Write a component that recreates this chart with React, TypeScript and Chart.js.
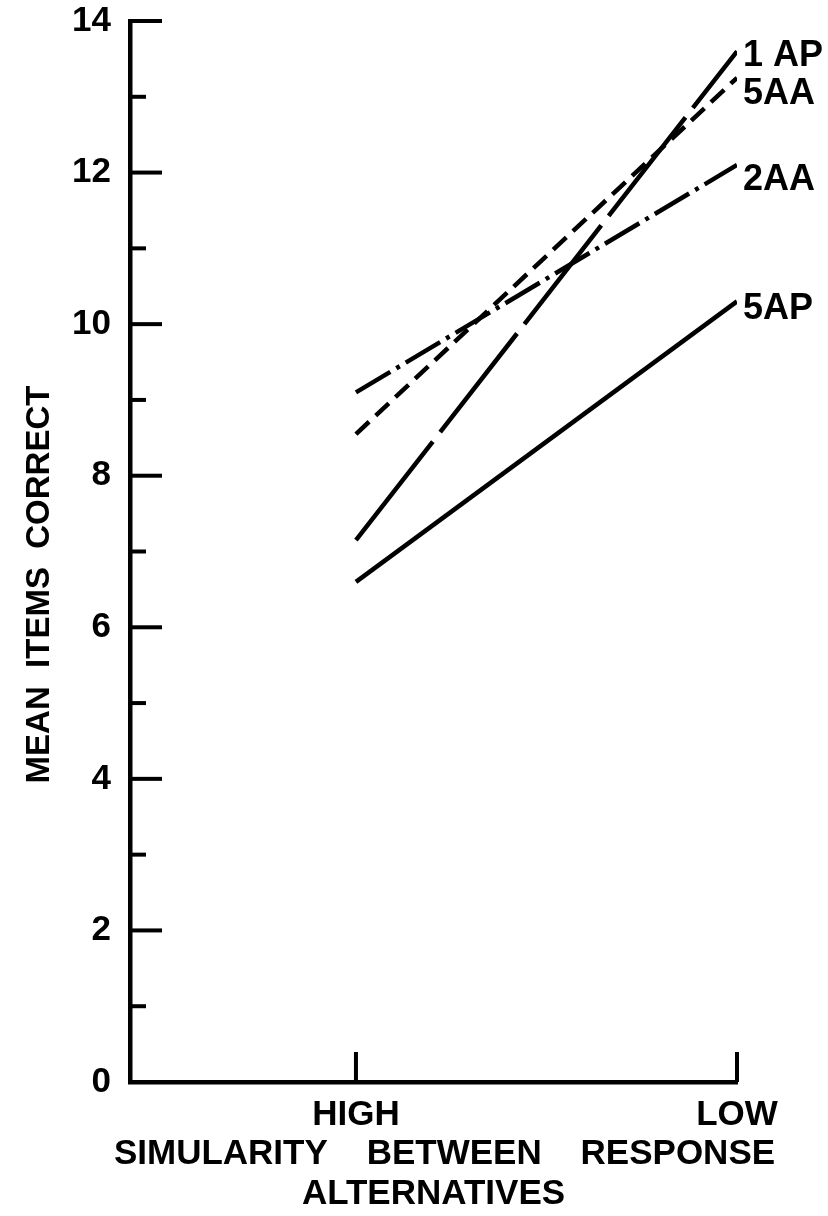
import React, { useEffect, useRef } from 'react';
import { Chart, registerables } from 'chart.js';

Chart.register(...registerables);

// Data
const similarityLevels = ['HIGH', 'LOW'];
const levelPositions = [0, 1];
const seriesNames = ['1 AP', '5AA', '2AA', '5AP'];
const values1AP = [7.15, 13.6];
const values5AA = [8.55, 13.25];
const values2AA = [9.1, 12.1];
const values5AP = [6.6, 10.3];
const yLabelTicks = [0, 2, 4, 6, 8, 10, 12, 14];
const yAllTicks = [1, 2, 3, 4, 5, 6, 7, 8, 9, 10, 11, 12, 13, 14];
const xTitleLines = ['SIMULARITY    BETWEEN    RESPONSE', 'ALTERNATIVES'];
const yTitleText = 'MEAN  ITEMS  CORRECT';

const FONT = '"Liberation Sans", Arial, "DejaVu Sans", sans-serif';

const seriesStyles = [
  { dash: [125, 12], labelDy: 5 },
  { dash: [18, 9], labelDy: 16 },
  { dash: [40, 7, 4, 7], labelDy: 15 },
  { dash: [], labelDy: 8 },
];

const annotatePlugin = {
  id: 'annotate',
  afterDraw(chart: any) {
    const { ctx, chartArea, scales } = chart;
    const xs = scales.x;
    const ys = scales.y;
    ctx.save();
    ctx.strokeStyle = '#000';
    ctx.fillStyle = '#000';
    ctx.lineCap = 'butt';
    ctx.lineWidth = 4;
    // inward y ticks
    yAllTicks.forEach((v) => {
      const py = ys.getPixelForValue(v);
      const len = v % 2 === 0 ? 32 : 16;
      ctx.beginPath();
      ctx.moveTo(chartArea.left, py);
      ctx.lineTo(chartArea.left + len, py);
      ctx.stroke();
    });
    // inward x ticks
    levelPositions.forEach((v) => {
      const px = xs.getPixelForValue(v);
      ctx.beginPath();
      ctx.moveTo(px, chartArea.bottom);
      ctx.lineTo(px, chartArea.bottom - 30);
      ctx.stroke();
    });
    // series labels at line ends
    ctx.font = `bold 36px ${FONT}`;
    ctx.textAlign = 'left';
    ctx.textBaseline = 'middle';
    chart.data.datasets.forEach((ds: any, i: number) => {
      const last = ds.data[ds.data.length - 1];
      const px = xs.getPixelForValue(last.x) + 6;
      const py = ys.getPixelForValue(last.y) + seriesStyles[i].labelDy;
      ctx.fillText(seriesNames[i], px, py);
    });
    // x axis title (two lines)
    ctx.font = `bold 35px ${FONT}`;
    ctx.textAlign = 'center';
    const cx = (chartArea.left + chartArea.right) / 2;
    ctx.fillText(xTitleLines[0], cx + 11, chartArea.bottom + 72);
    ctx.fillText(xTitleLines[1], cx, chartArea.bottom + 112);
    // y axis title
    ctx.font = `bold 33px ${FONT}`;
    ctx.translate(chartArea.left - 90, (chartArea.top + chartArea.bottom) / 2 + 33);
    ctx.rotate(-Math.PI / 2);
    ctx.fillText(yTitleText, 0, 0);
    ctx.restore();
  },
};

export default function App() {
  const canvasRef = useRef<HTMLCanvasElement | null>(null);

  useEffect(() => {
    if (!canvasRef.current) return;
    const allSeries = [values1AP, values5AA, values2AA, values5AP];
    const datasets = allSeries.map((vals, i) => ({
      label: seriesNames[i],
      data: vals.map((y, j) => ({ x: levelPositions[j], y })),
      borderColor: '#000',
      backgroundColor: '#000',
      borderWidth: 4.5,
      borderDash: seriesStyles[i].dash,
      pointRadius: 0,
      fill: false,
      tension: 0,
    }));
    const chart = new Chart(canvasRef.current, {
      type: 'line',
      data: { datasets },
      options: {
        animation: false,
        responsive: true,
        maintainAspectRatio: false,
        layout: { padding: { top: 21, right: 91, left: 0, bottom: 0 } },
        plugins: {
          legend: { display: false },
          tooltip: { enabled: false },
        },
        scales: {
          x: {
            type: 'linear',
            position: 'bottom',
            min: -0.593,
            max: 1,
            grid: { display: false, drawTicks: false },
            border: { display: true, width: 4.5, color: '#000' },
            afterBuildTicks: (s: any) => {
              s.ticks = levelPositions.map((v) => ({ value: v }));
            },
            afterFit: (s: any) => {
              s.height = 134;
              s.paddingLeft = 0;
              s.paddingRight = 0;
            },
            ticks: {
              autoSkip: false,
              maxRotation: 0,
              color: '#000',
              padding: 12,
              font: { family: FONT, size: 35, weight: 'bold' },
              callback: (v: any) => {
                const idx = levelPositions.indexOf(Number(v));
                return idx >= 0 ? similarityLevels[idx] : '';
              },
            },
          },
          y: {
            type: 'linear',
            min: 0,
            max: 14,
            grid: { display: false, drawTicks: false },
            border: { display: true, width: 4.5, color: '#000' },
            afterBuildTicks: (s: any) => {
              s.ticks = yLabelTicks.map((v) => ({ value: v }));
            },
            afterFit: (s: any) => {
              s.width = 130;
              s.paddingTop = 0;
              s.paddingBottom = 0;
            },
            ticks: {
              color: '#000',
              padding: 19,
              font: { family: FONT, size: 35, weight: 'bold' },
            },
          },
        },
      },
      plugins: [annotatePlugin],
    });
    return () => chart.destroy();
  }, []);

  return (
    <div style={{ position: 'absolute', left: 0, top: 0, width: 828, height: 1216, background: '#fff' }}>
      <canvas ref={canvasRef} />
    </div>
  );
}
